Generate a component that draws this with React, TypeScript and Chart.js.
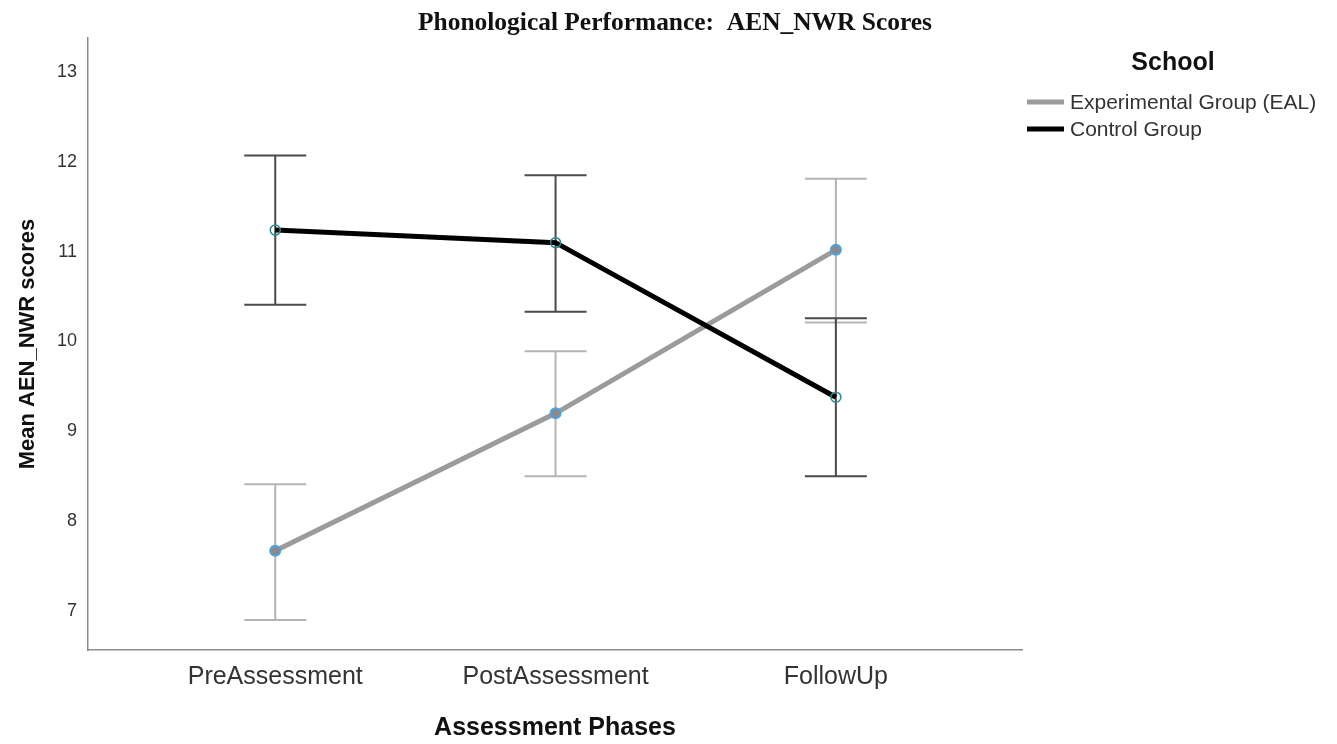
import React, { useEffect, useRef } from "react";
import { Chart, registerables } from "chart.js";

Chart.register(...registerables);

// Assessment phases on the x axis
const phases = ["PreAssessment", "PostAssessment", "FollowUp"];

// Group means with 95% CI bounds
const experimentalMean = [7.67, 9.2, 11.02];
const experimentalUpper = [8.41, 9.89, 11.81];
const experimentalLower = [6.9, 8.5, 10.21];

const controlMean = [11.24, 11.1, 9.38];
const controlUpper = [12.07, 11.85, 10.26];
const controlLower = [10.41, 10.33, 8.5];

const yTicks = [7, 8, 9, 10, 11, 12, 13];

const chartTitle = "Phonological Performance:  AEN_NWR Scores";
const legendTitle = "School";
const xTitle = "Assessment Phases";
const yTitle = "Mean AEN_NWR scores";

const seriesNames = ["Experimental Group (EAL)", "Control Group"];
const seriesColors = ["#9b9b9b", "#000000"];
const whiskerColors = ["#b4b4b4", "#4a4a4a"];
const intervals = [
  { lower: experimentalLower, upper: experimentalUpper },
  { lower: controlLower, upper: controlUpper },
];

const CAP_HALF = 31;

// Draws the CI whiskers beneath the mean lines
const errorBarsPlugin = {
  id: "errorBars",
  beforeDatasetsDraw(chart: any) {
    const { ctx } = chart;
    const xs = chart.scales.x;
    const ys = chart.scales.y;
    intervals.forEach((iv, di) => {
      ctx.save();
      ctx.strokeStyle = whiskerColors[di];
      ctx.lineWidth = 2;
      iv.lower.forEach((lo, i) => {
        const px = xs.getPixelForValue(i);
        const yl = ys.getPixelForValue(lo);
        const yh = ys.getPixelForValue(iv.upper[i]);
        ctx.beginPath();
        ctx.moveTo(px, yh);
        ctx.lineTo(px, yl);
        ctx.moveTo(px - CAP_HALF, yh);
        ctx.lineTo(px + CAP_HALF, yh);
        ctx.moveTo(px - CAP_HALF, yl);
        ctx.lineTo(px + CAP_HALF, yl);
        ctx.stroke();
      });
      ctx.restore();
    });
  },
};

// Chart title and the "School" legend on the right
const decorationsPlugin = {
  id: "decorations",
  afterDraw(chart: any) {
    const { ctx } = chart;
    ctx.save();
    ctx.fillStyle = "#111";
    ctx.textAlign = "center";
    ctx.textBaseline = "middle";
    ctx.font = "bold 26px 'Liberation Serif', serif";
    ctx.fillText(chartTitle, 675, 23, 514);

    ctx.font = "bold 25px 'Liberation Sans', Arial, sans-serif";
    ctx.fillStyle = "#111";
    ctx.fillText(legendTitle, 1173, 63);

    ctx.textAlign = "left";
    ctx.font = "21px 'Liberation Sans', Arial, sans-serif";
    seriesNames.forEach((name, i) => {
      const y = 102 + i * 27;
      ctx.strokeStyle = seriesColors[i];
      ctx.lineWidth = 5;
      ctx.beginPath();
      ctx.moveTo(1027, y);
      ctx.lineTo(1064, y);
      ctx.stroke();
      ctx.fillStyle = "#333";
      ctx.fillText(name, 1070, y + 1);
    });
    ctx.restore();
  },
};

export default function App() {
  const canvasRef = useRef<HTMLCanvasElement>(null);

  useEffect(() => {
    const canvas = canvasRef.current;
    if (!canvas) return;
    const chart = new Chart(canvas, {
      type: "line",
      data: {
        datasets: [
          {
            label: seriesNames[0],
            data: experimentalMean.map((v, i) => ({ x: i, y: v })),
            borderColor: seriesColors[0],
            borderWidth: 5,
            pointRadius: 5,
            pointBorderWidth: 2,
            pointBackgroundColor: "#8a8a8a",
            pointBorderColor: "#4ba3e3",
            order: 1,
          },
          {
            label: seriesNames[1],
            data: controlMean.map((v, i) => ({ x: i, y: v })),
            borderColor: seriesColors[1],
            borderWidth: 5,
            pointRadius: 5,
            pointBorderWidth: 1.5,
            pointBackgroundColor: "rgba(255,255,255,0)",
            pointBorderColor: "#2b8a8a",
            order: 0,
          },
        ],
      },
      options: {
        responsive: false,
        animation: false,
        layout: { padding: { top: 38, right: 315, left: 0, bottom: 0 } },
        plugins: {
          legend: { display: false },
          title: { display: false },
          tooltip: { enabled: false },
        },
        scales: {
          x: {
            type: "linear",
            min: -0.668,
            max: 2.664,
            grid: { display: false, drawTicks: false },
            border: { display: true, color: "#8c8c8c", width: 1.5 },
            afterBuildTicks: (scale: any) => {
              scale.ticks = phases.map((_, i) => ({ value: i }));
            },
            afterFit: (scale: any) => {
              scale.height = 94;
            },
            ticks: {
              padding: 12,
              color: "#333",
              font: { family: "'Liberation Sans', Arial, sans-serif", size: 25 },
              callback: (v: any) => phases[Math.round(Number(v))] ?? "",
              maxRotation: 0,
            },
            title: {
              display: true,
              text: xTitle,
              color: "#111",
              font: { family: "'Liberation Sans', Arial, sans-serif", size: 25, weight: "bold", lineHeight: 1 },
              padding: { top: 0, bottom: 3 },
            },
          },
          y: {
            type: "linear",
            min: 6.566,
            max: 13.378,
            grid: { display: false, drawTicks: false },
            border: { display: true, color: "#8c8c8c", width: 1.5 },
            afterBuildTicks: (scale: any) => {
              scale.ticks = yTicks.map((v) => ({ value: v }));
            },
            afterFit: (scale: any) => {
              scale.width = 88;
            },
            ticks: {
              padding: 11,
              color: "#333",
              font: { family: "'Liberation Sans', Arial, sans-serif", size: 18 },
            },
            title: {
              display: true,
              text: yTitle,
              color: "#111",
              font: { family: "'Liberation Sans', Arial, sans-serif", size: 22, weight: "bold", lineHeight: 1 },
              padding: { top: 17, bottom: 0 },
            },
          },
        },
      },
      plugins: [errorBarsPlugin, decorationsPlugin],
    });
    return () => chart.destroy();
  }, []);

  return (
    <div style={{ position: "fixed", left: 0, top: 0, width: 1337, height: 744, background: "#fff" }}>
      <canvas ref={canvasRef} width={1337} height={744} style={{ display: "block" }} />
    </div>
  );
}
